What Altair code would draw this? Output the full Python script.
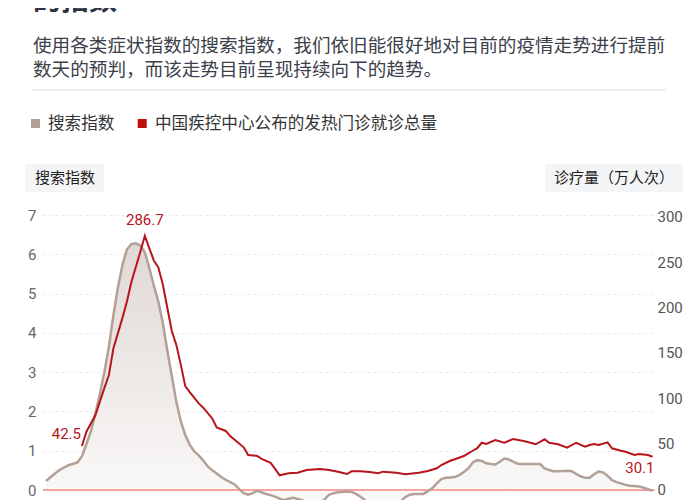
import altair as alt
import pandas as pd

# ---------------- data ----------------
# search index (left axis), day 0 = first day of the series
grey_day = [0, 2, 3, 5, 7, 8, 9, 10, 11, 12, 13, 14, 15, 16, 17, 18, 19, 20, 21, 22,
            23, 24, 25, 26, 27, 28, 29, 30, 31, 32, 33, 34, 35, 36, 37, 38, 39, 40, 41, 42,
            43, 44, 45, 46, 47, 48, 49, 50, 51, 52, 53, 54, 55, 56, 57, 58, 59, 60, 61, 62,
            63, 64, 65, 66, 67, 68, 69, 70, 71, 72, 74, 76, 78, 79, 80, 81, 82, 83, 84, 85,
            86, 87, 88, 89, 90, 91, 92, 93, 94, 95, 96, 97, 98, 99, 100, 101, 102, 103, 104, 105,
            106, 108, 110, 111, 112, 113, 114, 116, 117, 118, 119, 120, 121, 122, 123, 124, 125, 126, 127, 128,
            129, 130, 131, 132, 133, 134, 135]
grey_val = [0.23, 0.42, 0.51, 0.63, 0.70, 0.86, 1.17, 1.50, 1.95, 2.45, 3.00, 3.65, 4.45, 5.15, 5.72, 6.12, 6.26, 6.28, 6.22, 6.05,
            5.65, 5.20, 4.80, 4.25, 3.55, 2.90, 2.25, 1.75, 1.40, 1.15, 0.98, 0.88, 0.75, 0.60, 0.50, 0.42, 0.33, 0.26, 0.20, 0.14,
            0.02, -0.08, -0.12, -0.08, -0.02, -0.06, -0.10, -0.13, -0.17, -0.22, -0.26, -0.22, -0.20, -0.23, -0.26, -0.32, -0.38, -0.38, -0.32, -0.24,
            -0.12, -0.08, -0.06, -0.05, -0.04, -0.05, -0.10, -0.17, -0.26, -0.34, -0.42, -0.42, -0.35, -0.28, -0.18, -0.12, -0.10, -0.10, -0.10, -0.03,
            0.05, 0.17, 0.28, 0.31, 0.32, 0.33, 0.38, 0.46, 0.55, 0.70, 0.76, 0.74, 0.68, 0.66, 0.65, 0.72, 0.80, 0.78, 0.72, 0.67,
            0.66, 0.66, 0.66, 0.55, 0.51, 0.48, 0.48, 0.49, 0.48, 0.41, 0.35, 0.31, 0.31, 0.40, 0.47, 0.45, 0.36, 0.25, 0.20, 0.17,
            0.13, 0.11, 0.10, 0.09, 0.06, 0.02, -0.02]

# fever-clinic visits (万人次)
red_day = [8, 9, 11, 13, 14, 15, 17, 18, 19, 21, 22, 23, 24, 25, 26, 27, 28, 29, 30, 31,
           32, 34, 35, 37, 38, 40, 41, 44, 45, 47, 48, 50, 51, 52, 54, 56, 58, 61, 63, 65,
           67, 68, 70, 72, 74, 75, 78, 80, 83, 85, 87, 88, 90, 91, 93, 94, 95, 96, 97, 98,
           100, 102, 104, 106, 107, 109, 111, 112, 114, 116, 118, 120, 121, 122, 123, 125, 126, 128, 129, 131,
           132, 134, 135]
red_val = [42.5, 59.1, 78.5, 110.0, 125.0, 155.9, 191.0, 210.1, 233.0, 268.1, 286.7, 272.1, 258.0, 250.0, 230.0, 203.0, 176.0, 160.0, 137.0, 112.0,
           105.0, 92.0, 87.0, 74.5, 64.0, 60.0, 54.0, 41.0, 32.0, 31.0, 27.5, 23.0, 16.0, 8.5, 10.8, 11.5, 14.6, 15.8, 14.6, 12.7,
           10.0, 13.1, 13.1, 12.3, 10.8, 12.7, 11.5, 9.7, 11.5, 13.5, 16.6, 20.4, 25.4, 27.1, 30.9, 34.0, 37.0, 40.0, 46.3, 44.8,
           49.5, 46.3, 50.6, 48.5, 47.5, 44.5, 50.3, 46.3, 44.5, 40.5, 46.3, 41.7, 43.7, 44.8, 43.7, 46.8, 39.8, 37.1, 35.9, 32.1,
           33.2, 32.1, 30.1]

label_day = [8, 22, 135]
label_val = [42.5, 286.7, 30.1]

left_ticks = [0, 1, 2, 3, 4, 5, 6, 7]
right_ticks = [0, 50, 100, 150, 200, 250, 300]

heading = "的指数"
subtitle_lines = ["使用各类症状指数的搜索指数，我们依旧能很好地对目前的疫情走势进行提前",
                  "数天的预判，而该走势目前呈现持续向下的趋势。"]
legend_labels = ["搜索指数", "中国疾控中心公布的发热门诊就诊总量"]
left_title = "搜索指数"
right_title = "诊疗量（万人次）"

# ---------------- styling ----------------
CJK = "Noto Sans CJK SC"
NUM = "Roboto"
GREY = "#b3a097"
RED = "#b8141c"
TEAL = "#2f7a6f"
W, H = 612, 285

grey_df = pd.DataFrame({"day": grey_day, "index": grey_val})
red_df = pd.DataFrame({"day": red_day, "visits": red_val})
lab_df = pd.DataFrame({"day": label_day, "visits": label_val})
one = pd.DataFrame({"k": [0]})

x_scale = alt.Scale(domain=[-0.67, 135.56], nice=False, zero=False)
left_scale = alt.Scale(domain=[-0.2545, 7], nice=False, zero=False)
red_scale = alt.Scale(domain=[-20.19, 310.76], nice=False, zero=False)
right_scale = alt.Scale(domain=[-11.78, 301.87], nice=False, zero=False)

left_axis = alt.Axis(orient="left", values=left_ticks, domain=False, ticks=False,
                     labelPadding=7, labelFont=NUM, labelFontSize=15, labelColor="#666666",
                     grid=True, gridDash=[3, 3], gridColor="#e8e8e8", gridWidth=1, title="")

X = alt.X("day:Q", scale=x_scale, axis=None)

area = alt.Chart(grey_df).mark_area(
    clip=True,
    color=alt.Gradient(gradient="linear",
                       stops=[alt.GradientStop(color="#e0d8d4", offset=0),
                              alt.GradientStop(color="#fbfafa", offset=1)],
                       x1=0, x2=0, y1=0, y2=1),
).encode(x=X, y=alt.Y("index:Q", scale=left_scale, axis=left_axis), y2=alt.datum(0))

zero_rule = alt.Chart(one).mark_rule(color="#f08a80", strokeWidth=1.3).encode(
    y=alt.Y(datum=0, scale=left_scale, axis=left_axis))

grey_line = alt.Chart(grey_df).mark_line(color=GREY, strokeWidth=2.5, clip=True).encode(
    x=X, y=alt.Y("index:Q", scale=left_scale, axis=left_axis))

grey_layer = alt.layer(area, zero_rule, grey_line)

red_line = alt.Chart(red_df).mark_line(color=RED, strokeWidth=2, clip=True).encode(
    x=X, y=alt.Y("visits:Q", scale=red_scale, axis=None))


def red_label(day, align, dx, dy):
    return alt.Chart(lab_df).transform_filter(alt.datum.day == day).mark_text(
        font=NUM, fontSize=15, color=RED, align=align, baseline="middle", dx=dx, dy=dy
    ).encode(x=X, y=alt.Y("visits:Q", scale=red_scale, axis=None),
             text=alt.Text("visits:Q", format=".1f"))


red_layer = alt.layer(red_line,
                      red_label(8, "right", -1, -12),
                      red_label(22, "center", 0, -16),
                      red_label(135, "right", 2, 11))

axis_layer = alt.Chart(red_df).mark_point(opacity=0).encode(
    x=X,
    y=alt.Y("visits:Q", scale=right_scale,
            axis=alt.Axis(orient="right", values=right_ticks, domain=False, ticks=False,
                          labelPadding=2, labelFont=NUM, labelFontSize=15, labelColor="#555555",
                          labelAlign="left", grid=False, title="")))


def txt(text, x, y, size, color, weight="normal", baseline="middle", font=CJK):
    return alt.Chart(one).mark_text(text=text, align="left", baseline=baseline, font=font,
                                    fontSize=size, color=color, fontWeight=weight).encode(
        x=alt.value(x), y=alt.value(y))


def box(x, x2, y, y2, color):
    return alt.Chart(one).mark_rect(color=color).encode(
        x=alt.value(x), x2=alt.value(x2), y=alt.value(y), y2=alt.value(y2))


decor = [
    # teal frame strips at both page edges
    box(-43, -36, -230, 300, TEAL),
    box(649, 660, -230, 300, TEAL),
    txt(heading, -10, -205, 28, "#2c3341", weight="bold", baseline="alphabetic"),
    txt(subtitle_lines[0], -10, -169.5, 18.6, "#3b404a"),
    txt(subtitle_lines[1], -10, -145, 18.6, "#3b404a"),
    alt.Chart(one).mark_rule(color="#dedede", strokeWidth=1).encode(
        x=alt.value(-11), x2=alt.value(623), y=alt.value(-125)),
    box(-12, -3, -96, -87, "#b39e95"),
    txt(legend_labels[0], 5, -91, 16.6, "#333333"),
    box(94.7, 103.7, -96, -87, "#bf1010"),
    txt(legend_labels[1], 112, -91, 16.6, "#333333"),
    box(-18, 61, -51, -23, "#f4f5f7"),
    txt(left_title, -8, -37, 15, "#222222"),
    box(502, 640, -51, -23, "#f4f5f7"),
    txt(right_title, 511, -37, 15, "#222222"),
]

chart = alt.layer(*decor, grey_layer, red_layer, axis_layer).resolve_scale(
    y="independent"
).properties(
    width=W, height=H,
    padding={"left": 35, "top": 207, "right": 37, "bottom": 0},
    autosize=alt.AutoSizeParams(type="none"),
    background="#ffffff",
).configure_view(strokeWidth=0)

chart.save("out.html", embed_options={"renderer": "svg", "actions": False})
